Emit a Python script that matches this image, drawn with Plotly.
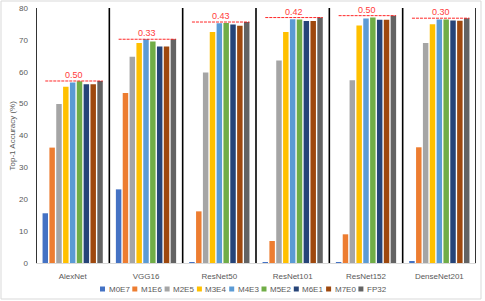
import plotly.graph_objects as go

models = ["AlexNet", "VGG16", "ResNet50", "ResNet101", "ResNet152", "DenseNet201"]
formats = ["M0E7", "M1E6", "M2E5", "M3E4", "M4E3", "M5E2", "M6E1", "M7E0", "FP32"]
colors = ["#4472C4", "#ED7D31", "#A5A5A5", "#FFC000", "#5B9BD5", "#70AD47", "#264478", "#9E480E", "#636363"]

M0E7 = [15.6, 23.1, 0.2, 0.2, 0.2, 0.5]
M1E6 = [36.2, 53.3, 16.2, 6.9, 9.0, 36.3]
M2E5 = [49.9, 64.7, 59.8, 63.5, 57.3, 69.0]
M3E4 = [55.3, 69.0, 72.5, 72.5, 74.5, 74.9]
M4E3 = [56.6, 70.2, 75.2, 76.5, 76.7, 76.4]
M5E2 = [57.0, 69.5, 75.3, 76.4, 77.0, 76.4]
M6E1 = [56.1, 67.9, 74.8, 75.9, 76.3, 76.1]
M7E0 = [56.1, 67.9, 74.4, 75.9, 76.3, 76.0]
FP32 = [57.1, 70.2, 75.6, 77.0, 77.6, 76.8]
series = [M0E7, M1E6, M2E5, M3E4, M4E3, M5E2, M6E1, M7E0, FP32]

drop_labels = ["0.50", "0.33", "0.43", "0.42", "0.50", "0.30"]
y_ticks = [0, 10, 20, 30, 40, 50, 60, 70, 80]

FONT = "Liberation Sans"
GREY = "#595959"
FS = 8

W, H = 485, 301
ml, mr, mt, mb = 36, 9, 8, 38
pw, ph = W - ml - mr, H - mt - mb

bargap = 0.16
groupgap = 0.2
n = len(formats)
slot = (1 - bargap) / n

fig = go.Figure()
for name, vals, c in zip(formats, series, colors):
    fig.add_trace(go.Bar(name=name, x=models, y=vals, marker=dict(color=c, line=dict(width=0)),
                         showlegend=False, hoverinfo="skip"))

# reference lines (FP32 level) with labels
for i, (m, v, lab) in enumerate(zip(models, FP32, drop_labels)):
    x0 = i - 0.5 + bargap / 2 + slot / 2
    x1 = i + 0.5 - bargap / 2 - slot * groupgap / 2
    fig.add_shape(type="line", xref="x", yref="y", x0=x0, x1=x1, y0=v, y1=v,
                  line=dict(color="rgba(255,0,0,0.85)", width=1, dash="3px,1px"))
    fig.add_annotation(x=(x0 + x1) / 2, y=v, xref="x", yref="y", text=lab, showarrow=False,
                       yanchor="bottom", yshift=-1, font=dict(color="#FF3B3B", size=9, family=FONT))

# category separators
for i in range(len(models) + 1):
    fig.add_shape(type="line", xref="x", yref="paper", x0=i - 0.5, x1=i - 0.5, y0=0, y1=1,
                  line=dict(color="black", width=1.6))

# manual legend
leg_y_px = 289
leg_x0_px = 100
item_w = 32.3
for k, (name, c) in enumerate(zip(formats, colors)):
    xm = leg_x0_px + k * item_w
    fx = (xm - ml) / pw
    fy = (H - mb - leg_y_px) / ph
    sx = 5 / pw
    sy = 5 / ph
    fig.add_shape(type="rect", xref="paper", yref="paper", x0=fx, x1=fx + sx,
                  y0=fy - sy / 2, y1=fy + sy / 2, fillcolor=c, line=dict(width=0))
    fig.add_annotation(xref="paper", yref="paper", x=fx + sx + 1.5 / pw, y=fy, text=name,
                       showarrow=False, xanchor="left", yanchor="middle",
                       font=dict(size=FS, color=GREY, family=FONT))

# y-axis title
fig.add_annotation(xref="paper", yref="paper", x=(12 - ml) / pw, y=0.5, text="Top-1 Accuracy (%)",
                   textangle=-90, showarrow=False, xanchor="center", yanchor="middle",
                   font=dict(size=FS, color=GREY, family=FONT))

# outer chart border
fig.add_shape(type="rect", xref="paper", yref="paper",
              x0=(1 - ml) / pw, x1=(481 - ml) / pw, y0=(H - mb - 299) / ph, y1=(H - mb - 1) / ph,
              line=dict(color="#D9D9D9", width=1), fillcolor="rgba(0,0,0,0)", layer="below")

fig.update_layout(
    width=W, height=H, margin=dict(l=ml, r=mr, t=mt, b=mb, pad=0),
    barmode="group", bargap=bargap, bargroupgap=groupgap,
    plot_bgcolor="white", paper_bgcolor="white",
    font=dict(family=FONT, size=FS, color=GREY),
    showlegend=False,
)
fig.update_xaxes(showgrid=False, showline=True, linecolor="#D9D9D9", linewidth=1, automargin=False,
                 ticks="", ticklabelstandoff=5, tickfont=dict(size=FS, color=GREY, family=FONT),
                 range=[-0.5, len(models) - 0.5])
fig.update_yaxes(range=[0, 80], tickvals=y_ticks, showgrid=False, zeroline=False, showline=False,
                 automargin=False, ticks="", ticklabelstandoff=7,
                 tickfont=dict(size=FS, color=GREY, family=FONT))

fig.write_html("out.html", config={"displayModeBar": False},
               post_script="document.body.style.margin='0';document.body.style.overflow='hidden';")
